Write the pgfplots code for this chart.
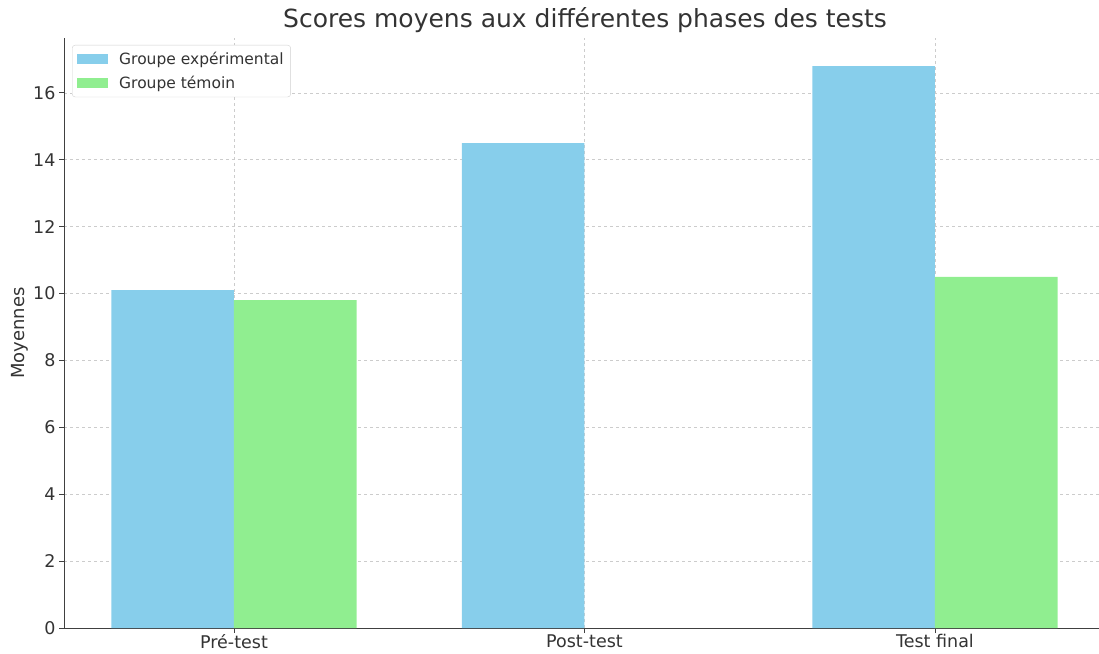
\documentclass[border=0pt]{standalone}
\usepackage{pgfplots}
\pgfplotsset{compat=1.18}
\usepackage{fontspec}
\setmainfont{DejaVu Sans}
\definecolor{expc}{HTML}{87CEEB}
\definecolor{temc}{HTML}{90EE90}
\definecolor{txt}{HTML}{333333}
\begin{document}
\begin{tikzpicture}[x=1pt,y=1pt]
\begin{axis}[
  at={(0,0)}, anchor=south west,
  scale only axis, width=1035pt, height=590pt,
  xmin=-0.485, xmax=2.468, ymin=0, ymax=17.64,
  axis x line*=bottom, axis y line*=left,
  axis line style={black!75, line width=1pt},
  xtick={0,1,2}, xticklabels={Pré-test,Post-test,Test final},
  ytick={0,2,...,16},
  tick align=outside, major tick length=5pt,
  tick style={black!75, line width=0.8pt},
  grid=major, grid style={dashed, black!20, line width=0.6pt},
  ticklabel style={font=\fontsize{17.5}{20}\selectfont, text=txt},
  xticklabel style={yshift=2pt},
  /pgf/number format/assume math mode=true,
  ylabel={Moyennes}, ylabel style={font=\fontsize{18}{20}\selectfont, text=txt, at={(-44pt,295pt)}, anchor=center, rotate=0},
  title={Scores moyens aux différentes phases des tests},
  title style={font=\fontsize{25}{28}\selectfont, text=txt, at={(521pt,602pt)}, anchor=center},
  ybar, bar width=0.35,
  legend style={at={(8pt,583pt)}, anchor=north west, draw=black!18, rounded corners=3pt,
    font=\fontsize{15.5}{18}\selectfont, text=txt, row sep=6pt, inner xsep=5pt, inner ysep=5pt,
    /tikz/every odd column/.append style={column sep=9pt}},
  legend cell align=left,
  legend image code/.code={\fill[#1, sharp corners] (0pt,-5pt) rectangle (31pt,5pt);},
]
\addplot[fill=expc, draw=none, bar shift=-0.175] coordinates {(0,10.1) (1,14.5) (2,16.8)};
\addlegendentry{Groupe expérimental}
\addplot[fill=temc, draw=none, bar shift=0.175] coordinates {(0,9.8) (2,10.5)};
\addlegendentry{Groupe témoin}
\end{axis}
\pgfresetboundingbox
\path (-64pt,-25pt) rectangle (1035pt,628pt);
\end{tikzpicture}
\end{document}
